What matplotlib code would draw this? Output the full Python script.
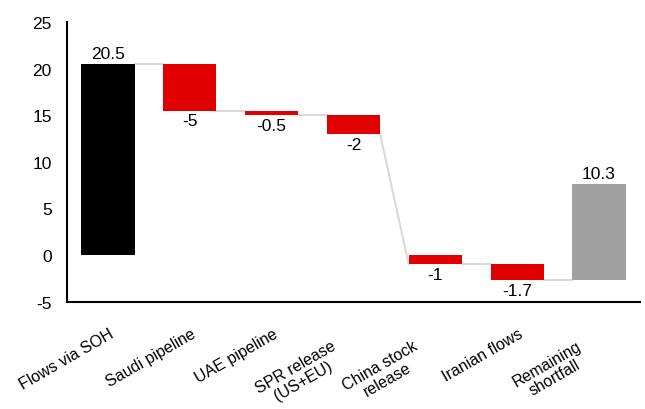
import matplotlib.pyplot as plt
from matplotlib.transforms import ScaledTranslation

# waterfall data
categories = ['Flows via SOH', 'Saudi pipeline', 'UAE pipeline', 'SPR release\n(US+EU)',
              'China stock\nrelease', 'Iranian flows', 'Remaining\nshortfall']
values = [20.5, -5, -0.5, -2, -1, -1.7, 10.3]
starts = [0, 20.5, 15.5, 15, 0, -1, -2.7]
labels = ['20.5', '-5', '-0.5', '-2', '-1', '-1.7', '10.3']
colors = ['black', '#E00000', '#E00000', '#E00000', '#E00000', '#E00000', '#A0A0A0']

# connector levels (left bar end -> right bar edge)
conn_from = [20.5, 15.5, 15, 13, -1, -2.7]
conn_to = [20.5, 15.5, 15, -1, -1, -2.7]

plt.rcParams['font.family'] = ['Liberation Sans', 'DejaVu Sans']
plt.rcParams['axes.unicode_minus'] = False

fig = plt.figure(figsize=(6.45, 4.1), dpi=100)
ax = fig.add_axes([0.104, 0.262, 0.888, 0.682])

w = 0.65
x = list(range(len(categories)))

for i in range(len(conn_from)):
    ax.plot([i + w / 2, i + 1 - w / 2], [conn_from[i], conn_to[i]],
            color='#D9D9D9', lw=1.5, zorder=1)

ax.bar(x, values, bottom=starts, width=w, color=colors, zorder=2)

for i in x:
    top = max(starts[i], starts[i] + values[i])
    bot = min(starts[i], starts[i] + values[i])
    if values[i] > 0:
        ax.annotate(labels[i], (i, top), xytext=(0, 2), textcoords='offset points',
                    ha='center', va='bottom', fontsize=12.5)
    else:
        ax.annotate(labels[i], (i, bot), xytext=(0, -2), textcoords='offset points',
                    ha='center', va='top', fontsize=12.5)

ax.set_xlim(-0.5, 6.5)
ax.set_ylim(-5, 25)
ax.set_yticks([-5, 0, 5, 10, 15, 20, 25])
ax.set_xticks(x)
ax.set_xticklabels([])
ax.tick_params(axis='x', length=0)
ax.tick_params(axis='y', length=0, labelsize=12.5, pad=11)

# rotated category labels, wrapped ones sit back along the text line
base = ax.get_xaxis_transform()
for i, cat in enumerate(categories):
    dx, dy = 1, 24
    if '\n' in cat:
        dx -= 24
        dy += 12
    tr = base + ScaledTranslation(dx / 100, -dy / 100, fig.dpi_scale_trans)
    ax.text(i, 0, cat, transform=tr, rotation=30, rotation_mode='anchor',
            ha='right', va='top', multialignment='center', fontsize=11.5,
            linespacing=1.05)

ax.spines['top'].set_visible(False)
ax.spines['right'].set_visible(False)
ax.spines['left'].set_linewidth(1.5)
ax.spines['bottom'].set_linewidth(1.5)

plt.savefig('out.png', dpi=100)
